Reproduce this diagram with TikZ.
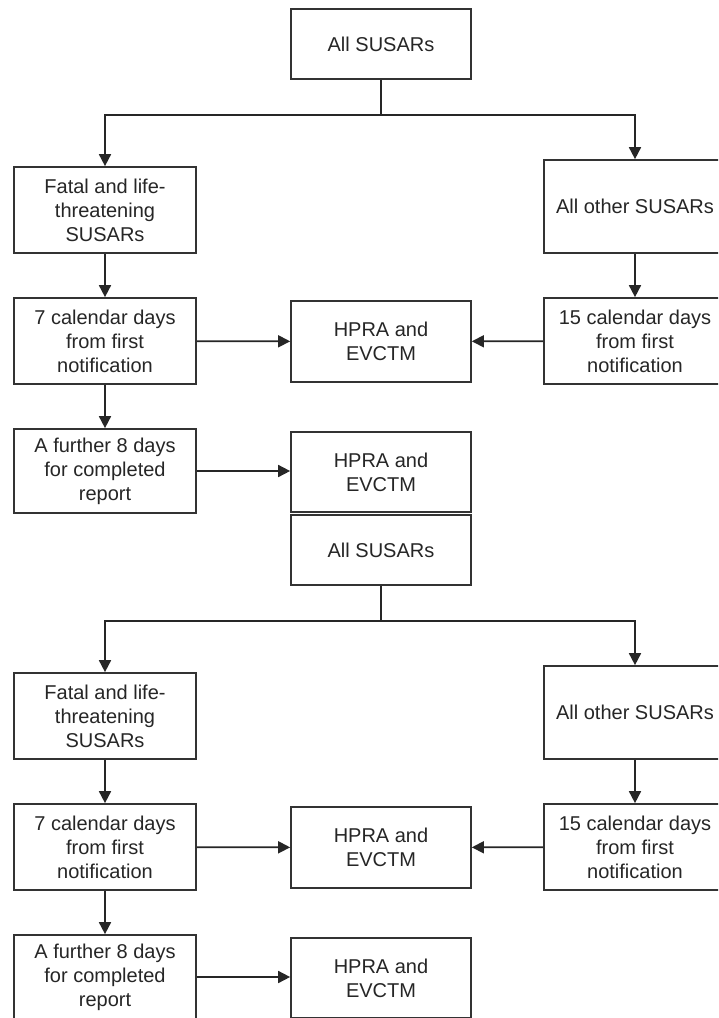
\documentclass[tikz,border=0pt]{standalone}
\usepackage{fontspec}
\setmainfont{Liberation Sans}
\usetikzlibrary{arrows.meta}

\begin{document}
\begin{tikzpicture}[x=1pt, y=-1pt,
        box/.style={draw=black!80, line width=1.7pt, inner sep=0pt, align=center, text=black!85, font=\fontsize{20}{24}\selectfont},
        link/.style={draw=black!85, line width=1.7pt, -{Triangle[length=12pt, width=12pt]}}]
        \clip (0,0) rectangle (718,1018);
        \fill[white] (0,0) rectangle (718,1018);

        \begin{scope}
            \node[box, minimum width=180pt, minimum height=70pt] (chart1 all) at (381,44) {All SUSARs};
            \node[box, minimum width=182pt, minimum height=86pt] (chart1 fatal) at (105,210) {Fatal and life-\\threatening\\SUSARs};
            \node[box, minimum width=182pt, minimum height=93pt] (chart1 other) at (635,206.5) {All other SUSARs};
            \node[box, minimum width=182pt, minimum height=86pt] (chart1 cal7) at (105,341) {7 calendar days\\from first\\notification};
            \node[box, minimum width=180pt, minimum height=81pt] (chart1 hpra1) at (381,341.5) {HPRA and\\EVCTM};
            \node[box, minimum width=182pt, minimum height=86pt] (chart1 cal15) at (635,341) {15 calendar days\\from first\\notification};
            \node[box, minimum width=182pt, minimum height=84pt] (chart1 further) at (105,471) {A further 8 days\\for completed\\report};
            \node[box, minimum width=180pt, minimum height=80pt] (chart1 hpra2) at (381,472) {HPRA and\\EVCTM};

            \draw[link] (chart1 all.south) -- ++(0,35) coordinate (chart1 split) -| (chart1 fatal.north);
            \draw[link] (chart1 split) -| (chart1 other.north);
            \draw[link] (chart1 fatal) -- (chart1 cal7);
            \draw[link] (chart1 other) -- (chart1 cal15);
            \draw[link] (chart1 cal7) -- (chart1 hpra1);
            \draw[link] (chart1 cal15) -- (chart1 hpra1);
            \draw[link] (chart1 cal7) -- (chart1 further);
            \draw[link] (chart1 further.east) -- (chart1 hpra2.west |- chart1 further.east);
        \end{scope}

        \begin{scope}[shift={(0,506)}]
            \node[box, minimum width=180pt, minimum height=70pt] (chart2 all) at (381,44) {All SUSARs};
            \node[box, minimum width=182pt, minimum height=86pt] (chart2 fatal) at (105,210) {Fatal and life-\\threatening\\SUSARs};
            \node[box, minimum width=182pt, minimum height=93pt] (chart2 other) at (635,206.5) {All other SUSARs};
            \node[box, minimum width=182pt, minimum height=86pt] (chart2 cal7) at (105,341) {7 calendar days\\from first\\notification};
            \node[box, minimum width=180pt, minimum height=81pt] (chart2 hpra1) at (381,341.5) {HPRA and\\EVCTM};
            \node[box, minimum width=182pt, minimum height=86pt] (chart2 cal15) at (635,341) {15 calendar days\\from first\\notification};
            \node[box, minimum width=182pt, minimum height=84pt] (chart2 further) at (105,471) {A further 8 days\\for completed\\report};
            \node[box, minimum width=180pt, minimum height=80pt] (chart2 hpra2) at (381,472) {HPRA and\\EVCTM};

            \draw[link] (chart2 all.south) -- ++(0,35) coordinate (chart2 split) -| (chart2 fatal.north);
            \draw[link] (chart2 split) -| (chart2 other.north);
            \draw[link] (chart2 fatal) -- (chart2 cal7);
            \draw[link] (chart2 other) -- (chart2 cal15);
            \draw[link] (chart2 cal7) -- (chart2 hpra1);
            \draw[link] (chart2 cal15) -- (chart2 hpra1);
            \draw[link] (chart2 cal7) -- (chart2 further);
            \draw[link] (chart2 further.east) -- (chart2 hpra2.west |- chart2 further.east);
        \end{scope}
\end{tikzpicture}
\end{document}
